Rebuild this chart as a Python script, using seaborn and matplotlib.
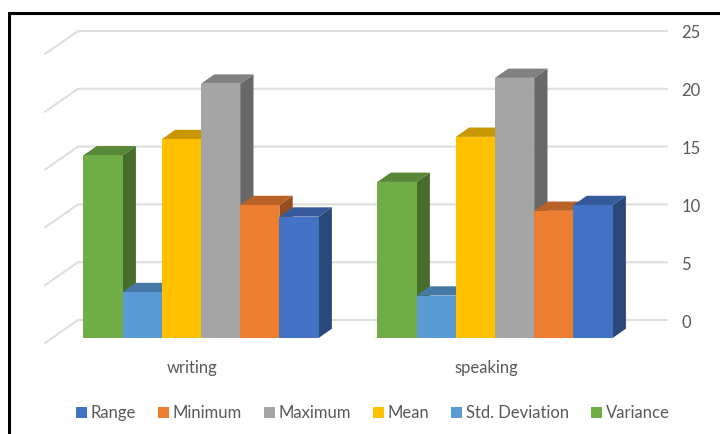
import matplotlib
matplotlib.use("Agg")
import matplotlib.pyplot as plt
import pandas as pd
import seaborn as sns
from matplotlib.colors import to_rgb
from matplotlib.lines import Line2D
from matplotlib.transforms import ScaledTranslation

skills = ["writing", "speaking"]
measures = ["Variance", "Std. Deviation", "Mean", "Maximum", "Minimum", "Range"]
variance = [15.8, 13.5]
std_deviation = [3.97, 3.67]
mean = [17.2, 17.4]
maximum = [22.0, 22.5]
minimum = [11.5, 11.0]
value_range = [10.5, 11.5]
colors = ["#70AD47", "#5B9BD5", "#FFC000", "#A5A5A5", "#ED7D31", "#4472C4"]
y_ticks = [0, 5, 10, 15, 20, 25]

series = [variance, std_deviation, mean, maximum, minimum, value_range]
table = pd.DataFrame(
    [(s, m, vals[i]) for m, vals in zip(measures, series) for i, s in enumerate(skills)],
    columns=["skill", "measure", "value"],
)

sns.set_theme(style="white")
plt.rcParams["font.family"] = ["Lato", "DejaVu Sans"]
TEXT = "#595959"
GRID = "#DEDEDE"
W, H = 720, 434
PX_PER_CAT = 294.0
PX_PER_UNIT = 11.56

fig = plt.figure(figsize=(W / 100, H / 100), dpi=100, facecolor="white")
ax = fig.add_axes([0, 0, 1, 1])
sns.barplot(
    data=table, x="skill", y="value", hue="measure", order=skills, hue_order=measures,
    palette=colors, width=0.8, gap=0, saturation=1, errorbar=None, legend=False, ax=ax,
)

# One scale for the whole canvas: category 0 sits at 201 px, value 0 at 338 px from the top
ax.set_xlim((0 - 201) / PX_PER_CAT, (W - 201) / PX_PER_CAT)
ax.set_ylim((338 - H) / PX_PER_UNIT, 338 / PX_PER_UNIT)
ax.set_xlabel("")
ax.set_ylabel("")
sns.despine(ax=ax, left=True, bottom=True, right=True, top=True)

# Oblique projection depth of a bar, in data units
depth_x = 13.3 / PX_PER_CAT
depth_y = 9.3 / PX_PER_UNIT
wall_y = 18 / PX_PER_UNIT
floor_y = -5 / PX_PER_UNIT
wall_left = (78 - 201) / PX_PER_CAT
wall_right = (667 - 201) / PX_PER_CAT
front_left = (45 - 201) / PX_PER_CAT

# Back wall gridlines with their return along the side wall
for tick in y_ticks:
    ax.plot([front_left, wall_left, wall_right],
            [tick + floor_y, tick + wall_y, tick + wall_y],
            color=GRID, lw=1.5, zorder=1, solid_joinstyle="miter")


def shade(color, factor):
    return tuple(c * factor for c in to_rgb(color))


# Side and top faces, painted left to right so nearer neighbours overlap them
for i, (container, color) in enumerate(zip(ax.containers, colors)):
    base_z = 10 + 3 * i
    for bar in container:
        x0, x1 = bar.get_x(), bar.get_x() + bar.get_width()
        h = bar.get_height()
        ax.fill([x1, x1 + depth_x, x1 + depth_x, x1], [0, depth_y, h + depth_y, h],
                color=shade(color, 0.63), lw=0, zorder=base_z)
        ax.fill([x0, x1, x1 + depth_x, x0 + depth_x], [h, h, h + depth_y, h + depth_y],
                color=shade(color, 0.78), lw=0, zorder=base_z + 1)
        bar.set_zorder(base_z + 2)
        bar.set_linewidth(0)

# Axis labels
fs = 12
ax.yaxis.tick_right()
ax.set_yticks(y_ticks)
ax.set_yticklabels([str(t) for t in y_ticks])
ax.tick_params(axis="y", length=0, pad=-27.8, labelsize=fs, labelcolor=TEXT)
ax.tick_params(axis="x", length=0, pad=0, labelsize=fs, labelcolor=TEXT)
for label in ax.get_yticklabels():
    label.set_transform(label.get_transform() + ScaledTranslation(0, 17 / 100, fig.dpi_scale_trans))
for label in ax.get_xticklabels():
    label.set_va("center")
    label.set_transform(label.get_transform() + ScaledTranslation(-9 / 100, (H - 368.5) / 100, fig.dpi_scale_trans))

# Legend reads in the reverse of the drawing order
px = fs * 100 / 72
ax.legend(
    handles=[c[0] for c in reversed(ax.containers)],
    labels=list(reversed(measures)),
    loc="center left", bbox_to_anchor=(76 / W, 1 - 413 / H), ncol=6, frameon=False,
    fontsize=fs, labelcolor=TEXT, borderpad=0, borderaxespad=0,
    handlelength=11 / px, handleheight=11 / px, handletextpad=4 / px, columnspacing=21.5 / px,
)

# Double frame on the left and top edges
for lw, xl, yt in [(0.72, 7.5, 11.5), (1.5, 10.0, 14.0)]:
    fig.add_artist(Line2D([xl / W, xl / W, 1], [0, 1 - yt / H, 1 - yt / H],
                          color="black", lw=lw, solid_joinstyle="miter"))

fig.savefig("out.png", dpi=100, facecolor="white")
